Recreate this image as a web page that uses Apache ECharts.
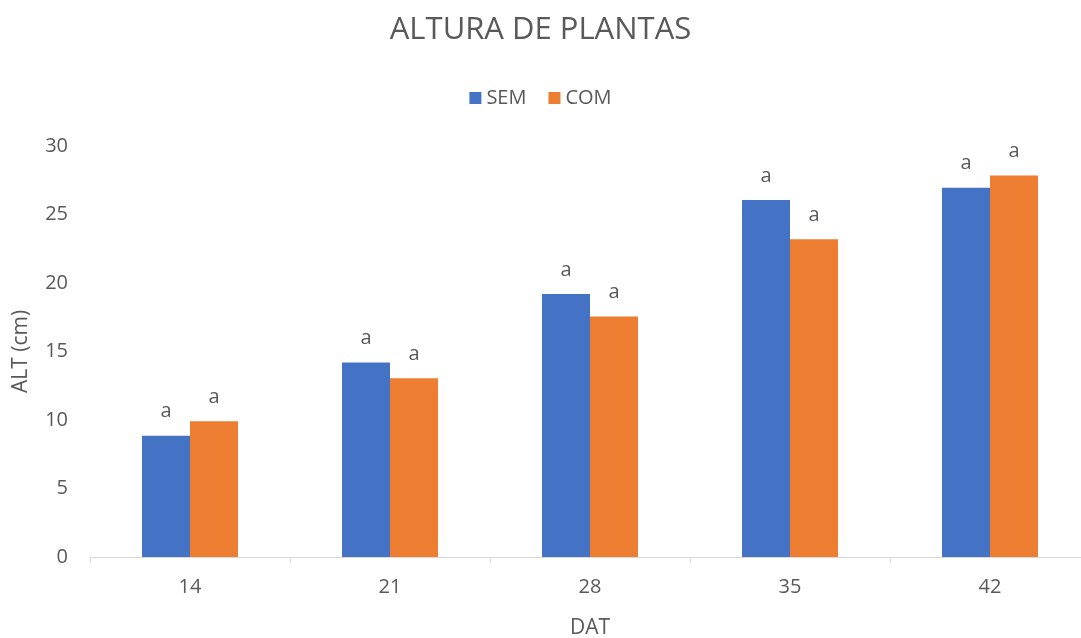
<!DOCTYPE html>
<html>
<head>
<meta charset="utf-8">
<script src="https://cdn.jsdelivr.net/npm/echarts@6/dist/echarts.min.js"></script>
<style>
  html, body { margin: 0; padding: 0; background: #fff; }
  #chart { width: 1081px; height: 638px; }
</style>
</head>
<body>
<div id="chart"></div>
<script>
// Plant height (cm) by days after transplanting
const categories = ['14', '21', '28', '35', '42'];
const semValues = [8.85, 14.2, 19.2, 26.05, 26.95];
const comValues = [9.9, 13.05, 17.55, 23.2, 27.85];
const semLetters = ['a', 'a', 'a', 'a', 'a'];
const comLetters = ['a', 'a', 'a', 'a', 'a'];
const yTicks = [0, 5, 10, 15, 20, 25, 30];

const textColor = '#595959';
const fontFamily = '"Open Sans", "Noto Sans", sans-serif';

const chart = echarts.init(document.getElementById('chart'));

function letterLabel(letters) {
  return {
    show: true,
    position: 'top',
    distance: 14,
    color: textColor,
    fontSize: 20,
    fontFamily: fontFamily,
    formatter: p => letters[p.dataIndex]
  };
}

chart.setOption({
  animation: false,
  textStyle: { fontFamily: fontFamily },
  title: {
    text: 'ALTURA DE PLANTAS',
    left: 'center',
    top: 10,
    textStyle: { color: textColor, fontSize: 31, fontWeight: 'normal', fontFamily: fontFamily }
  },
  legend: {
    top: 83,
    left: 'center',
    itemWidth: 12,
    itemHeight: 12,
    itemGap: 22,
    icon: 'rect',
    textStyle: { color: textColor, fontSize: 20, fontFamily: fontFamily },
    data: ['SEM', 'COM']
  },
  // plot area runs slightly past the right edge of the canvas
  grid: {
    left: 90, width: 1000, top: 146, bottom: 81,
    containLabel: false,
    outerBoundsMode: 'none'
  },
  xAxis: {
    type: 'category',
    data: categories,
    name: 'DAT',
    nameLocation: 'middle',
    nameGap: 61,
    nameTextStyle: { color: textColor, fontSize: 21, fontFamily: fontFamily },
    axisLine: { lineStyle: { color: '#d9d9d9', width: 1 } },
    axisTick: { show: true, length: 6, lineStyle: { color: '#d9d9d9' } },
    axisLabel: { color: textColor, fontSize: 20, margin: 20, fontFamily: fontFamily }
  },
  yAxis: {
    type: 'value',
    min: yTicks[0],
    max: yTicks[yTicks.length - 1],
    interval: yTicks[1] - yTicks[0],
    name: 'ALT (cm)',
    nameLocation: 'middle',
    nameGap: 58,
    nameRotate: 90,
    nameTextStyle: { color: textColor, fontSize: 21, fontFamily: fontFamily },
    axisLine: { show: false },
    axisTick: { show: false },
    splitLine: { show: false },
    axisLabel: { color: textColor, fontSize: 20, margin: 22, fontFamily: fontFamily }
  },
  series: [
    {
      name: 'SEM',
      type: 'bar',
      data: semValues,
      barWidth: 48,
      barGap: '0%',
      itemStyle: { color: '#4472c4' },
      label: letterLabel(semLetters)
    },
    {
      name: 'COM',
      type: 'bar',
      data: comValues,
      barWidth: 48,
      barGap: '0%',
      itemStyle: { color: '#ed7d31' },
      label: letterLabel(comLetters)
    }
  ]
});
</script>
</body>
</html>
